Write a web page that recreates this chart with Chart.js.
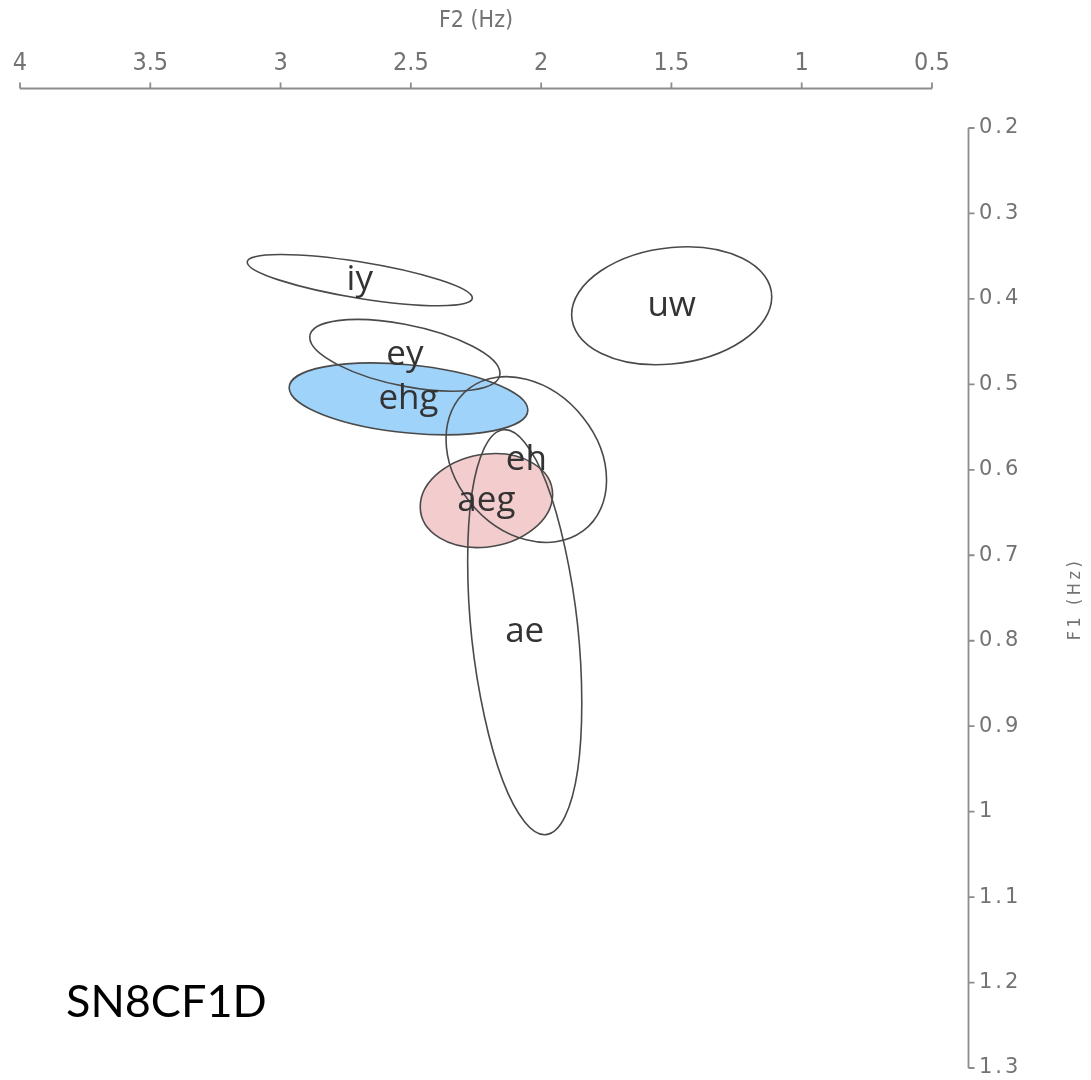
<!DOCTYPE html>
<html>
<head>
<meta charset="utf-8">
<script src="https://cdn.jsdelivr.net/npm/chart.js"></script>
<style>
  html, body { margin: 0; padding: 0; background: #fff; }
</style>
</head>
<body>
<canvas id="vowelSpace" width="1091" height="1080"></canvas>
<script>
// Vowel ellipses: centre, spread along each formant and F2/F1 correlation
var vowels   = ['iy', 'ey', 'ehg', 'aeg', 'eh', 'ae', 'uw'];
var centreF2 = [2.696, 2.523, 2.509, 2.210, 2.057, 2.063, 1.499];
var centreF1 = [0.378, 0.466, 0.517, 0.636, 0.588, 0.790, 0.408];
var spreadF2 = [0.432, 0.365, 0.458, 0.254, 0.308, 0.219, 0.384];
var spreadF1 = [0.030, 0.042, 0.042, 0.055, 0.097, 0.237, 0.069];
var corr     = [-0.70, -0.50, -0.31, 0.13, -0.25, -0.35, 0.15];

var f2Ticks = [4, 3.5, 3, 2.5, 2, 1.5, 1, 0.5];
var f1Ticks = [0.2, 0.3, 0.4, 0.5, 0.6, 0.7, 0.8, 0.9, 1, 1.1, 1.2, 1.3];
var speaker = 'SN8CF1D';

// styles
var fillColours = { ehg: '#a0d3f9', aeg: '#f3cccd' };
var inkGrey = '#737373';

// keep the plot area where the reference has it
function noLabelPadding(s) {
  s.paddingLeft = s.paddingRight = s.paddingTop = s.paddingBottom = 0;
}

window.document.addEventListener("DOMContentLoaded", () => {

  var ellipses = {
    id: 'ellipses',
    afterDatasetsDraw: function(chart) {
      var ctx = chart.ctx, sx = chart.scales.x, sy = chart.scales.y;

      function ellipsePath(i) {
        var cx = sx.getPixelForValue(centreF2[i]);
        var cy = sy.getPixelForValue(centreF1[i]);
        // cholesky factor of the covariance, taken through the scales
        var ux = sx.getPixelForValue(centreF2[i] + spreadF2[i]) - cx;
        var uy = sy.getPixelForValue(centreF1[i] + corr[i] * spreadF1[i]) - cy;
        var vy = sy.getPixelForValue(centreF1[i] + Math.sqrt(1 - corr[i] * corr[i]) * spreadF1[i]) - cy;
        ctx.beginPath();
        ctx.save();
        ctx.transform(ux, uy, 0, vy, cx, cy);
        ctx.arc(0, 0, 1, 0, 2 * Math.PI);
        ctx.restore();
      }

      ctx.save();
      vowels.forEach(function(v, i) {
        if (fillColours[v]) {
          ellipsePath(i);
          ctx.fillStyle = fillColours[v];
          ctx.fill();
        }
      });
      ctx.strokeStyle = '#4a4a4a';
      ctx.lineWidth = 1.6;
      vowels.forEach(function(v, i) {
        ellipsePath(i);
        ctx.stroke();
      });
      ctx.fillStyle = '#333';
      ctx.font = '35px "Open Sans"';
      ctx.textAlign = 'center';
      ctx.textBaseline = 'middle';
      vowels.forEach(function(v, i) {
        ctx.fillText(v, sx.getPixelForValue(centreF2[i]), sy.getPixelForValue(centreF1[i]));
      });
      ctx.restore();

      // the F1 tick labels are drawn next, a little spaced out
      ctx.letterSpacing = '3px';
    },
    afterDraw: function(chart) {
      var ctx = chart.ctx, sx = chart.scales.x, sy = chart.scales.y, area = chart.chartArea;
      ctx.letterSpacing = '0px';
      ctx.save();
      ctx.strokeStyle = '#8c8c8c';
      ctx.lineWidth = 1.8;

      // offset F2 axis above the plot
      var ax = area.top - 39.5;
      ctx.beginPath();
      ctx.moveTo(sx.getPixelForValue(f2Ticks[0]), ax);
      ctx.lineTo(sx.getPixelForValue(f2Ticks[f2Ticks.length - 1]), ax);
      f2Ticks.forEach(function(t) {
        var px = sx.getPixelForValue(t);
        ctx.moveTo(px, ax);
        ctx.lineTo(px, ax - 6);
      });
      ctx.stroke();

      // offset F1 axis right of the plot
      var ay = area.right + 36.5;
      ctx.beginPath();
      ctx.moveTo(ay, sy.getPixelForValue(f1Ticks[0]));
      ctx.lineTo(ay, sy.getPixelForValue(f1Ticks[f1Ticks.length - 1]));
      f1Ticks.forEach(function(t) {
        var py = sy.getPixelForValue(t);
        ctx.moveTo(ay, py);
        ctx.lineTo(ay + 6, py);
      });
      ctx.stroke();

      // F1 title reads bottom to top
      ctx.translate(1075, (area.top + area.bottom) / 2 + 1);
      ctx.rotate(-Math.PI / 2);
      ctx.fillStyle = inkGrey;
      ctx.font = '18px "DejaVu Sans Condensed", "DejaVu Sans"';
      ctx.letterSpacing = '3.5px';
      ctx.textAlign = 'center';
      ctx.textBaseline = 'middle';
      ctx.fillText('F1 (Hz)', 0, 0);
      ctx.restore();
      ctx.letterSpacing = '0px';

      ctx.save();
      ctx.fillStyle = '#000';
      ctx.font = '45px Lato';
      ctx.textBaseline = 'alphabetic';
      ctx.fillText(speaker, 66, 1017);
      ctx.restore();
    }
  };

  var ctx = document.getElementById('vowelSpace');
  new Chart(ctx, {
    type: 'scatter',
    data: {
      datasets: [{
        data: vowels.map((v, i) => ({ x: centreF2[i], y: centreF1[i] })),
        pointRadius: 0,
        showLine: false
      }]
    },
    options: {
      responsive: false,
      animation: false,
      devicePixelRatio: 1,
      layout: { padding: { left: 20, right: 0, top: 0, bottom: 12 } },
      plugins: { legend: { display: false }, tooltip: { enabled: false } },
      scales: {
        x: {
          type: 'linear',
          position: 'top',
          reverse: true,
          min: 0.5,
          max: 4,
          afterBuildTicks: s => { s.ticks = f2Ticks.map(v => ({ value: v })); },
          afterFit: s => { s.height = 128; noLabelPadding(s); },
          grid: { display: false, drawTicks: false },
          border: { display: false },
          ticks: {
            padding: 50,
            color: inkGrey,
            font: { family: '"DejaVu Sans Condensed", "DejaVu Sans"', size: 25 },
            maxRotation: 0,
            callback: v => String(v)
          },
          title: {
            display: true,
            text: 'F2 (Hz)',
            color: inkGrey,
            font: { family: '"DejaVu Sans Condensed", "DejaVu Sans"', size: 23 },
            padding: { top: 7, bottom: 0 }
          }
        },
        y: {
          type: 'linear',
          position: 'right',
          reverse: true,
          min: 0.2,
          max: 1.3,
          afterBuildTicks: s => { s.ticks = f1Ticks.map(v => ({ value: v })); },
          afterFit: s => { s.width = 159; noLabelPadding(s); },
          grid: { display: false, drawTicks: false },
          border: { display: false },
          ticks: {
            z: 1,
            padding: 47,
            color: inkGrey,
            font: { family: '"DejaVu Sans"', size: 21, lineHeight: 1 },
            callback: v => String(v)
          }
        }
      }
    },
    plugins: [ellipses]
  });
});
</script>
</body>
</html>
